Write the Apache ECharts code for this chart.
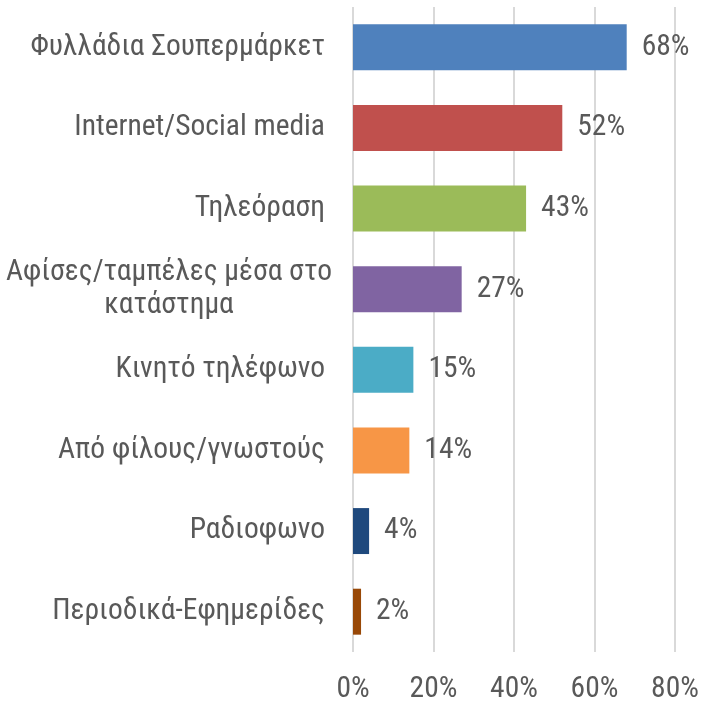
<!DOCTYPE html>
<html lang="el">
  <head>
    <meta charset="UTF-8" />
    <title>Πηγές ενημέρωσης</title>
    <script src="https://cdn.jsdelivr.net/npm/echarts@6/dist/echarts.min.js"></script>
    <style>
      html, body { margin: 0; padding: 0; background: #fff; }
    </style>
  </head>
  <body>
    <div id="main" style="width: 701px; height: 706px"></div>
    <script type="text/javascript">
      // chart data
      const categories = [
        "Φυλλάδια Σουπερμάρκετ",
        "Internet/Social media",
        "Τηλεόραση",
        "Αφίσες/ταμπέλες μέσα στο\nκατάστημα",
        "Κινητό τηλέφωνο",
        "Από φίλους/γνωστούς",
        "Ραδιοφωνο",
        "Περιοδικά-Εφημερίδες",
      ];
      const values = [68, 52, 43, 27, 15, 14, 4, 2];
      const xTicks = [0, 20, 40, 60, 80];

      const palette = ["#4f81bd", "#c0504d", "#9bbb59", "#8064a2", "#4bacc6", "#f79646", "#1f497d", "#984807"];
      const font = '"Roboto Condensed", "Liberation Sans", sans-serif';
      const textColor = "#595959";
      const fs = 29.5;

      let myChart = echarts.init(document.getElementById("main"));
      let options = {
        animation: false,
        grid: { left: 353, right: 26, top: 7, bottom: 54, outerBoundsMode: "none" },
        xAxis: {
          type: "value",
          min: xTicks[0],
          max: xTicks[xTicks.length - 1],
          interval: xTicks[1] - xTicks[0],
          axisLine: { show: false },
          axisTick: { show: false },
          splitLine: { lineStyle: { color: "#d9d9d9", width: 2 } },
          axisLabel: {
            formatter: "{value}%",
            color: textColor,
            fontFamily: font,
            fontSize: fs,
            margin: 23,
          },
        },
        yAxis: {
          type: "category",
          inverse: true,
          data: categories,
          axisLine: { show: false },
          axisTick: { show: false },
          axisLabel: {
            color: textColor,
            fontFamily: font,
            fontSize: fs,
            margin: 28,
            lineHeight: 33,
            formatter: (v) =>
              v.indexOf("\n") >= 0
                ? v.split("\n").map((s) => "{c|" + s + "}").join("\n")
                : v,
            rich: {
              c: {
                width: 312,
                align: "center",
                color: textColor,
                fontFamily: font,
                fontSize: fs,
                lineHeight: 33,
              },
            },
          },
        },
        series: [
          {
            type: "bar",
            barCategoryGap: "43%",
            data: values.map((v, i) => ({ value: v, itemStyle: { color: palette[i] } })),
            label: {
              show: true,
              position: "right",
              distance: 15,
              formatter: "{c}%",
              color: textColor,
              fontFamily: font,
              fontSize: fs,
            },
          },
        ],
      };
      myChart.setOption(options);
    </script>
  </body>
</html>
